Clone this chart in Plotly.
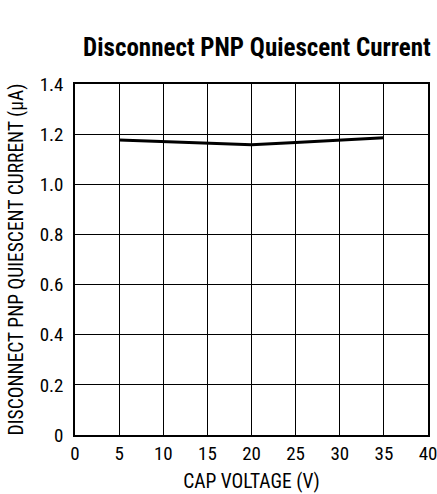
import plotly.graph_objects as go

cap_voltage = [5, 10, 15, 20, 25, 30, 35]
quiescent_current = [1.177, 1.170, 1.163, 1.158, 1.167, 1.176, 1.186]

x_ticks = [0, 5, 10, 15, 20, 25, 30, 35, 40]
y_ticks = [0, 0.2, 0.4, 0.6, 0.8, 1.0, 1.2, 1.4]
y_tick_text = ["0", "0.2", "0.4", "0.6", "0.8", "1.0", "1.2", "1.4"]

FONT = "Roboto Condensed, Liberation Sans Narrow, Arial Narrow, sans-serif"

fig = go.Figure()
fig.add_trace(go.Scatter(x=cap_voltage, y=quiescent_current, mode="lines",
                         line=dict(color="black", width=3), showlegend=False))

fig.update_layout(
    width=437, height=494,
    margin=dict(l=75, r=9, t=84, b=59),
    paper_bgcolor="white", plot_bgcolor="white",
    font=dict(family=FONT, color="black", size=19),
    title=dict(text="<b>Disconnect PNP Quiescent Current</b>", x=0.588, xanchor="center",
               y=0.905, yanchor="middle", font=dict(size=25, family=FONT)),
)
fig.update_xaxes(range=[0, 40], tickvals=x_ticks, showgrid=True, gridcolor="black", gridwidth=1,
                 showline=True, linecolor="black", linewidth=1.5, mirror=True, zeroline=False,
                 ticks="", ticklen=0, ticklabelstandoff=0, automargin=False,
                 ticklabeloverflow="allow",
                 title=dict(text="CAP VOLTAGE (V)", font=dict(size=19.5), standoff=11),
                 tickfont=dict(size=19))
fig.update_yaxes(range=[0, 1.4], tickvals=y_ticks, ticktext=y_tick_text, showgrid=True,
                 gridcolor="black", gridwidth=1,
                 showline=True, linecolor="black", linewidth=1.5, mirror=True, zeroline=False,
                 ticks="", ticklen=0, ticklabelstandoff=6, automargin=False,
                 ticklabeloverflow="allow",
                 title=dict(text="DISCONNECT PNP QUIESCENT CURRENT (µA)", font=dict(size=19.5), standoff=11),
                 tickfont=dict(size=19))

fig.write_html("out.html", config={"displayModeBar": False},
               post_script="document.body.style.margin='0';document.body.style.overflow='hidden';")
